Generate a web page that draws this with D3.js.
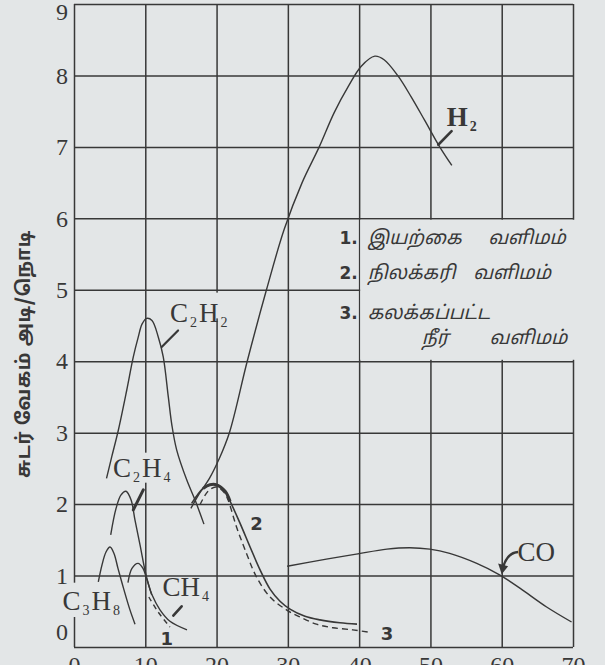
<!DOCTYPE html>
<html>
<head>
<meta charset="utf-8">
<script src="https://cdn.jsdelivr.net/npm/d3@7"></script>
<style>
  body { margin: 0; background: #e3e6e7; }
  svg { display: block; }
</style>
</head>
<body>
<div id="chart"></div>
<script>
'use strict';

// ── Data (gas % in air vs flame speed ft/s) ────────────────────────────────
const xTicks = [0, 10, 20, 30, 40, 50, 60, 70];
const yTicks = [0, 1, 2, 3, 4, 5, 6, 7, 8, 9];

const h2 = [[16.4,1.94],[17.6,2.15],[19.0,2.36],[20.3,2.62],[21.8,3.0],[24.3,4.0],
  [27.0,5.0],[29.5,5.85],[32.0,6.5],[34.4,7.0],[36.5,7.48],[38.5,7.85],[40.3,8.13],
  [42.2,8.27],[43.5,8.22],[45.4,8.0],[47.3,7.7],[49.2,7.37],[51.3,7.0],[53.0,6.74]];

const c2h2 = [[4.56,2.36],[5.29,2.66],[6.21,3.03],[7.39,3.59],[8.32,4.06],[9.02,4.34],
  [9.54,4.52],[10.2,4.6],[10.94,4.57],[11.82,4.34],[12.52,4.06],[13.23,3.5],
  [13.74,3.1],[14.4,2.76],[15.81,2.34],[16.97,2.06],[18.23,1.72]];

const c2h4 = [[5.15,1.57],[5.9,1.94],[6.6,2.13],[7.3,2.18],[8.0,2.06],[8.55,1.78],
  [9.26,1.43],[10.1,1.01],[10.9,0.73]];

const ch4 = [[7.57,0.9],[8.13,1.1],[8.98,1.17],[9.68,1.1],[10.24,0.94],[10.94,0.73],
  [12.06,0.52],[13.46,0.36],[15.85,0.24]];

const c3h8 = [[3.41,0.91],[3.93,1.15],[4.49,1.33],[5.05,1.4],[5.61,1.31],[6.17,1.1],
  [7.01,0.8],[7.85,0.52],[8.56,0.32]];

const naturalGas = [[10.5,0.7],[11.8,0.49],[13.46,0.28]];          // 1 (dashed)

const coalGas = [[16.5,2.01],[18.1,2.22],[19.07,2.27],[20.0,2.27],[21.2,2.18],
  [21.9,2.04],[23.3,1.73],[24.7,1.4],[26.1,1.08],[27.5,0.81],[28.9,0.64],
  [30.3,0.53],[32.4,0.43],[34.5,0.38],[37.3,0.34],[39.7,0.32]];     // 2

const waterGas = [[17.67,1.99],[18.8,2.18],[19.9,2.24],[21.0,2.17],[21.6,2.06],
  [22.8,1.68],[24.2,1.31],[25.6,0.98],[27.5,0.7],[29.8,0.52],[31.7,0.42],
  [34.0,0.32],[36.3,0.27],[39.1,0.24],[41.2,0.21]];                 // 3 (dashed)

const co = [[29.9,1.13],[35.4,1.23],[39.6,1.3],[43.9,1.37],[47.1,1.39],[49.9,1.37],
  [52.7,1.31],[56.5,1.17],[59.7,1.01],[62.6,0.82],[66.3,0.56],[69.8,0.35]];

const yTitle = 'சுடர் வேகம் அடி/நொடி';
const legendNums = ['1.', '2.', '3.'];
const legendWords = [['இயற்கை', 'வளிமம்'], ['நிலக்கரி', 'வளிமம்'], ['கலக்கப்பட்ட'], ['நீர்', 'வளிமம்']];

// ── Layout ─────────────────────────────────────────────────────────────────
const W = 605, H = 665;
const x = d3.scaleLinear().domain([0, 70]).range([74, 573]);
const y = d3.scaleLinear().domain([0, 9]).range([647, 4]);

const BG = '#e3e6e7', INK = '#383838';
const SERIF = '"Liberation Serif", "DejaVu Serif", serif';
const TAMIL = '"Noto Sans Tamil", "Lohit Tamil", "Noto Sans", sans-serif';

const svg = d3.select('#chart').append('svg')
  .attr('width', W).attr('height', H)
  .style('background', BG);

// Grid
svg.append('g')
  .attr('transform', `translate(0,${y(0)})`)
  .call(d3.axisBottom(x).tickValues(xTicks).tickSize(-(y(0) - y(9))).tickFormat(''))
  .call(ax => ax.select('.domain').remove())
  .selectAll('line').attr('stroke', INK).attr('stroke-width', 1.5);

svg.append('g')
  .attr('transform', `translate(${x(0)},0)`)
  .call(d3.axisLeft(y).tickValues(yTicks).tickSize(-(x(70) - x(0))).tickFormat(''))
  .call(ax => ax.select('.domain').remove())
  .selectAll('line').attr('stroke', INK).attr('stroke-width', 1.5);

// Gaps in the grid (legend box and labels)
const gaps = [
  { x0: 40.15, x1: 70.4, y0: 6 - 0.02, y1: 4 + 0.02 },
  { x0: -0.3, x1: 0.3, y0: 0.9, y1: 0.42 },
  { x0: 9.7, x1: 10.3, y0: 2.72, y1: 2.3 },
  { x0: 19.7, x1: 20.3, y0: 4.96, y1: 4.6 },
];
svg.append('g').selectAll('rect').data(gaps).join('rect')
  .attr('x', d => x(d.x0)).attr('width', d => x(d.x1) - x(d.x0))
  .attr('y', d => y(d.y0)).attr('height', d => y(d.y1) - y(d.y0))
  .attr('fill', BG);

// Tick labels
svg.append('g')
  .attr('transform', `translate(${x(0)},0)`)
  .call(d3.axisLeft(y).tickValues(yTicks).tickSize(0).tickPadding(6).tickFormat(d3.format('d')))
  .call(ax => ax.select('.domain').remove())
  .selectAll('text')
  .attr('fill', INK).attr('font-family', SERIF).attr('font-size', 24)
  .attr('transform', d => d === 0 ? 'translate(0,-15)' : d === 9 ? 'translate(0,8)' : null);

svg.append('g')
  .attr('transform', `translate(0,${y(0)})`)
  .call(d3.axisBottom(x).tickValues(xTicks).tickSize(0).tickPadding(9).tickFormat(d3.format('d')))
  .call(ax => ax.select('.domain').remove())
  .selectAll('text')
  .attr('fill', INK).attr('font-family', SERIF).attr('font-size', 24);

// Y title
svg.append('text')
  .attr('transform', `translate(30,${(y(2.35) + y(5.85)) / 2}) rotate(-90)`)
  .attr('text-anchor', 'middle')
  .attr('font-family', TAMIL).attr('font-weight', 'bold').attr('font-size', 19)
  .attr('letter-spacing', 0.6)
  .attr('fill', INK)
  .text(yTitle);

// ── Curves ─────────────────────────────────────────────────────────────────
const line = d3.line()
  .x(d => x(d[0])).y(d => y(d[1]))
  .curve(d3.curveCatmullRom.alpha(0.5));

const series = [
  { pts: h2 }, { pts: c2h2 }, { pts: c2h4 }, { pts: ch4 }, { pts: c3h8 },
  { pts: naturalGas, dash: '5,4' }, { pts: coalGas, w: 1.6 },
  { pts: waterGas, dash: '6,4' }, { pts: co },
];
svg.append('g').selectAll('path').data(series).join('path')
  .attr('d', d => line(d.pts))
  .attr('fill', 'none')
  .attr('stroke', INK)
  .attr('stroke-width', d => d.w || 1.4)
  .attr('stroke-dasharray', d => d.dash || null);

// thick cap on coal gas peak
svg.append('path')
  .attr('d', line(coalGas.slice(1, 6)))
  .attr('fill', 'none').attr('stroke', INK).attr('stroke-width', 3);

// ── Pointers ───────────────────────────────────────────────────────────────
const pointers = [
  { a: [14.6, 4.43], b: [12.3, 4.2], w: 2.2 },
  { a: [9.72, 2.2], b: [8.32, 1.92], w: 3 },
  { a: [15.1, 0.57], b: [13.93, 0.44], w: 2.6 },
  { a: [52.97, 7.22], b: [51.1, 7.03], w: 2.6 },
];
svg.append('g').selectAll('line').data(pointers).join('line')
  .attr('x1', d => x(d.a[0])).attr('y1', d => y(d.a[1]))
  .attr('x2', d => x(d.b[0])).attr('y2', d => y(d.b[1]))
  .attr('stroke', INK).attr('stroke-width', d => d.w).attr('stroke-linecap', 'round');

// CO curved arrow
svg.append('path')
  .attr('d', `M${x(62.3)},${y(1.33)} Q${x(60.6)},${y(1.32)} ${x(60.05)},${y(1.06)}`)
  .attr('fill', 'none').attr('stroke', INK).attr('stroke-width', 2.4);
svg.append('path')
  .attr('d', `M${x(59.5)},${y(1.17)} L${x(60.0)},${y(1.02)} L${x(60.9)},${y(1.13)} Z`)
  .attr('fill', INK);

// ── Gas labels ─────────────────────────────────────────────────────────────
const gasLabels = [
  { at: [13.46, 4.55], base: 'C', sub1: '2', mid: 'H', sub2: '2' },
  { at: [5.47, 2.38],  base: 'C', sub1: '2', mid: 'H', sub2: '4' },
  { at: [12.4, 0.71],  base: 'CH', sub1: '4' },
  { at: [-1.6, 0.52],  base: 'C', sub1: '3', mid: 'H', sub2: '8' },
  { at: [52.3, 7.29],  base: 'H', sub1: '2', bold: true },
  { at: [62.2, 1.2],   base: 'CO' },
];
const gl = svg.append('g').selectAll('text').data(gasLabels).join('text')
  .attr('x', d => x(d.at[0])).attr('y', d => y(d.at[1]))
  .attr('font-family', SERIF).attr('font-size', 27).attr('fill', INK)
  .attr('font-weight', d => d.bold ? 'bold' : null);
gl.each(function (d) {
  const t = d3.select(this);
  t.append('tspan').text(d.base);
  if (d.sub1) t.append('tspan').attr('font-size', 14).attr('dy', 5).attr('dx', 2).text(d.sub1);
  if (d.mid) t.append('tspan').attr('dy', -5).attr('dx', 2).text(d.mid);
  if (d.sub2) t.append('tspan').attr('font-size', 14).attr('dy', 5).attr('dx', 2).text(d.sub2);
});

// Curve number labels
const curveNums = [
  { at: [13.0, 0.03], t: '1' },
  { at: [25.6, 1.64], t: '2' },
  { at: [43.9, 0.1],  t: '3' },
];
svg.append('g').selectAll('text').data(curveNums).join('text')
  .attr('x', d => x(d.at[0])).attr('y', d => y(d.at[1]))
  .attr('text-anchor', 'middle')
  .attr('font-family', '"DejaVu Sans", sans-serif').attr('font-weight', 'bold')
  .attr('font-size', 18).attr('fill', INK)
  .text(d => d.t);

// ── Legend ─────────────────────────────────────────────────────────────────
const legRowsY = [5.64, 5.15, 4.59, 4.24];
svg.append('g').selectAll('text').data(legendNums).join('text')
  .attr('x', x(39.8)).attr('y', (d, i) => y(legRowsY[i]))
  .attr('text-anchor', 'end')
  .attr('font-family', '"DejaVu Sans", sans-serif').attr('font-weight', 'bold')
  .attr('font-size', 17).attr('fill', INK)
  .text(d => d);

const wordX = [[41.2, 58.1], [41.2, 56.0], [41.2], [48.8, 58.3]];
legendWords.forEach((words, r) => {
  words.forEach((w, k) => {
    svg.append('text')
      .attr('x', x(wordX[r][k])).attr('y', y(legRowsY[r]))
      .attr('font-family', TAMIL).attr('font-style', 'italic')
      .attr('font-size', 19).attr('fill', INK)
      .text(w);
  });
});
</script>
</body>
</html>
